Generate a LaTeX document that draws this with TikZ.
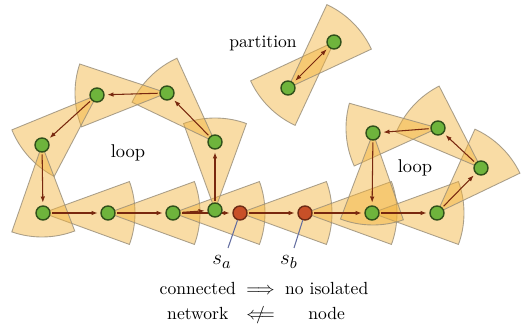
\documentclass[tikz,border=0pt]{standalone}
\usetikzlibrary{arrows.meta,calc,backgrounds}
\definecolor{beamfill}{RGB}{242,177,55}
\definecolor{beamedge}{RGB}{150,140,120}
\definecolor{nodegreen}{RGB}{110,180,60}
\definecolor{nodered}{RGB}{200,80,40}
\definecolor{linkcol}{RGB}{120,40,15}
\definecolor{tagcol}{RGB}{100,110,160}
\tikzset{
  beam/.style={fill=beamfill, fill opacity=0.45, draw=beamedge, draw opacity=0.8, line width=0.5pt},
  sensor/.style={circle, draw=nodegreen!45!black, fill=nodegreen, line width=0.8pt, minimum size=0.28cm, inner sep=0pt},
  hub/.style={sensor, draw=nodered!55!black, fill=nodered},
  link/.style={-{Latex[length=3.5pt,width=2.6pt]}, draw=linkcol, line width=0.6pt, shorten >=1.5pt, shorten <=1pt},
  duallink/.style={link, {Latex[length=3.5pt,width=2.6pt]}-{Latex[length=3.5pt,width=2.6pt]}, shorten <=1.5pt},
  tag/.style={draw=tagcol, line width=0.6pt},
  lab/.style={font=\fontsize{10.5}{12}\selectfont}
}
% sector of a node, aimed at a second node
\newcommand{\wedgeat}[2]{%
  \path let \p1=($(#2)-(#1)$), \n1={atan2(\y1,\x1)} in
    [beam] (#1.center) -- ++(\n1-20:92) arc[start angle=\n1-20, end angle=\n1+20, radius=92] -- cycle;}
\newcommand{\notimpl}{\mathrel{\ooalign{$\Longleftarrow$\cr\hidewidth$/$\hidewidth\cr}}}
\begin{document}
\begin{tikzpicture}[x=0.02cm, y=0.02cm]
\useasboundingbox (0,0) rectangle (521,331);
% left loop and chain
\node[sensor] (g1) at (43,118) {};
\node[sensor] (g2) at (108,118) {};
\node[sensor] (g3) at (173,118) {};
\node[sensor] (g4) at (215,121) {};
\node[sensor] (g10) at (215,189) {};
\node[sensor] (g11) at (167,238) {};
\node[sensor] (g12) at (97,236) {};
\node[sensor] (g13) at (42,186) {};
\node[hub] (sa) at (240,118) {};
\node[hub] (sb) at (305,118) {};
% right loop
\node[sensor] (g5) at (372,118) {};
\node[sensor] (g6) at (437,118) {};
\node[sensor] (g7) at (481,163) {};
\node[sensor] (g8) at (438,203) {};
\node[sensor] (g9) at (373,198) {};
% partition
\node[sensor] (p1) at (334,289) {};
\node[sensor] (p2) at (288,243) {};

\begin{pgfonlayer}{background}
\wedgeat{g1}{g2}
\wedgeat{g2}{g3}
\wedgeat{g3}{sa}
\wedgeat{g4}{g10}
\wedgeat{g10}{g11}
\wedgeat{g11}{g12}
\wedgeat{g12}{g13}
\wedgeat{g13}{g1}
\wedgeat{sa}{sb}
\wedgeat{sb}{g5}
\wedgeat{g5}{g6}
\wedgeat{g6}{g7}
\wedgeat{g7}{g8}
\wedgeat{g8}{g9}
\wedgeat{g9}{g5}
\wedgeat{p1}{p2}
\wedgeat{p2}{p1}

\draw[link] (g1) -- (g2);
\draw[link] (g2) -- (g3);
\draw[link] (g3) -- (g4);
\draw[link] (g3) -- (sa);
\draw[link] (g4) -- (g10);
\draw[link] (g10) -- (g11);
\draw[link] (g11) -- (g12);
\draw[link] (g12) -- (g13);
\draw[link] (g13) -- (g1);
\draw[link] (sa) -- (sb);
\draw[link] (sb) -- (g5);
\draw[link] (g5) -- (g6);
\draw[link] (g6) -- (g7);
\draw[link] (g7) -- (g8);
\draw[link] (g8) -- (g9);
\draw[link] (g9) -- (g5);
\draw[duallink] (p1) -- (p2);
\end{pgfonlayer}

% labels
\node[lab] (loopL) at (128,178) {loop};
\node[lab] (loopR) at (415,163) {loop};
\node[font=\normalsize] (part) at (263,288) {partition};
\coordinate (saend) at (228,83);
\coordinate (sbend) at (294,83);
\draw[tag] (sa) -- (saend);
\draw[tag] (sb) -- (sbend);
\node[font=\fontsize{13}{15}\selectfont] (salab) at (222,69) {$s_a$};
\node[font=\fontsize{13}{15}\selectfont] (sblab) at (289,69) {$s_b$};
\node (rule) at (264,28) {\begin{tabular}{@{}c@{\hspace{6pt}}c@{\hspace{6pt}}c@{}}
connected & $\Longrightarrow$ & no isolated\\[2pt]
network & $\notimpl$ & node
\end{tabular}};
\end{tikzpicture}
\end{document}
